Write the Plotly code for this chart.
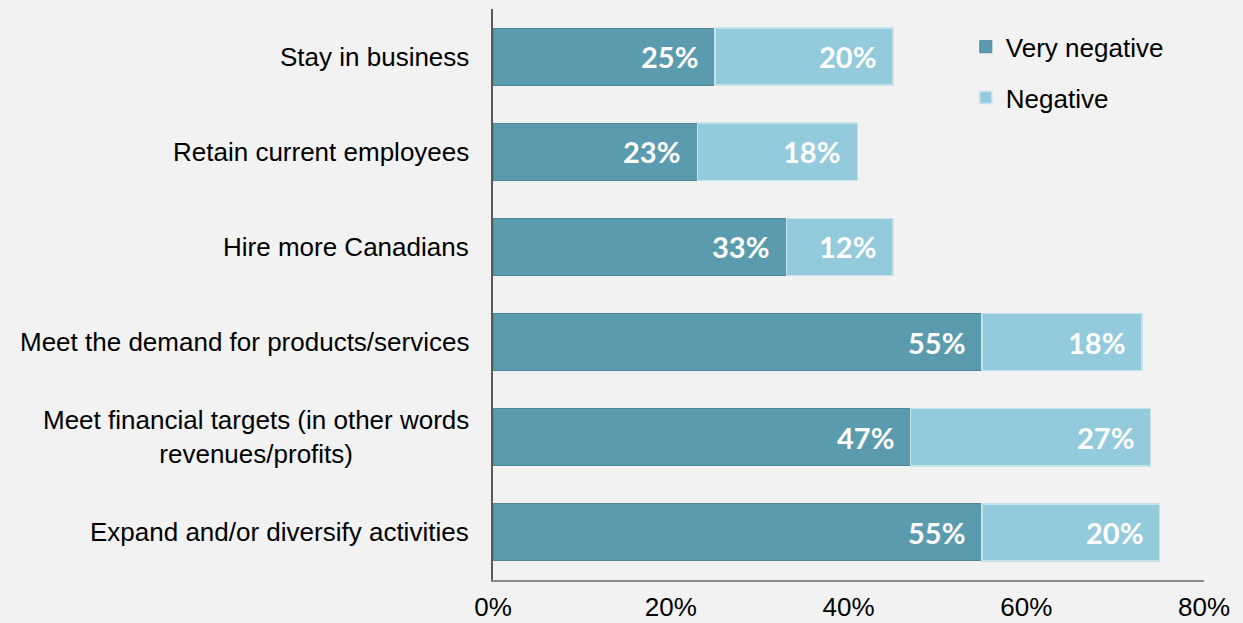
import plotly.graph_objects as go

categories = [
    "Stay in business",
    "Retain current employees",
    "Hire more Canadians",
    "Meet the demand for products/services",
    "Meet financial targets (in other words<br>revenues/profits)",
    "Expand and/or diversify activities",
]
very_negative = [25, 23, 33, 55, 47, 55]
negative = [20, 18, 12, 18, 27, 20]
series_names = ["Very negative", "Negative"]
x_ticks = [0, 20, 40, 60, 80]
x_tick_labels = ["0%", "20%", "40%", "60%", "80%"]

DARK = "#5a9cae"
LIGHT = "#93cbdc"
BG = "#f2f2f2"

fig = go.Figure()
fig.add_trace(go.Bar(
    y=categories, x=very_negative, orientation="h", name=series_names[0],
    marker=dict(color=DARK, line=dict(color="#4d8797", width=1)),
    width=0.6, legendgroup="a", hoverinfo="skip",
))
fig.add_trace(go.Bar(
    y=categories, x=negative, orientation="h", name=series_names[1],
    marker=dict(color=LIGHT, line=dict(color="#c6e3ec", width=1.5)),
    width=0.6, legendgroup="b", hoverinfo="skip",
))

annotations = []
label_font = dict(family="Lato, Open Sans, sans-serif", size=29, color="white")
for c, a, b in zip(categories, very_negative, negative):
    annotations.append(dict(x=a, y=c, xref="x", yref="y", text=f"<b>{a}%</b>",
                            showarrow=False, xanchor="right", xshift=-15,
                            font=label_font))
    annotations.append(dict(x=a + b, y=c, xref="x", yref="y", text=f"<b>{b}%</b>",
                            showarrow=False, xanchor="right", xshift=-15,
                            font=label_font))
    annotations.append(dict(x=0, y=c, xref="paper", yref="y", text=c,
                            showarrow=False, xanchor="right", xshift=-22,
                            align="center",
                            font=dict(family="Liberation Sans, Arial, sans-serif",
                                      size=26, color="#000000")))

fig.update_layout(
    width=1243, height=623,
    barmode="stack",
    paper_bgcolor=BG, plot_bgcolor=BG,
    margin=dict(l=493, r=39, t=9, b=43, autoexpand=False),
    font=dict(family="Liberation Sans, Arial, sans-serif", size=26, color="#000000"),
    showlegend=True,
    legend=dict(x=0.665, y=0.975, xanchor="left", yanchor="top",
                traceorder="grouped", tracegroupgap=14,
                bgcolor="rgba(0,0,0,0)",
                font=dict(family="Liberation Sans, Arial, sans-serif", size=26, color="#000000")),
    annotations=annotations,
    bargap=0.4,
)
fig.update_xaxes(
    range=[0, 80], tickvals=x_ticks, ticktext=x_tick_labels,
    showgrid=False, zeroline=False, automargin=False,
    showline=True, linecolor="#8a8a8a", linewidth=1.5,
    ticks="", ticklabelstandoff=3,
    tickfont=dict(size=26, color="#000000"),
)
fig.update_yaxes(
    categoryorder="array", categoryarray=categories, autorange="reversed",
    showticklabels=False, showgrid=False, zeroline=False, automargin=False,
    showline=True, linecolor="#5a5a5a", linewidth=2,
    ticks="",
)

fig.write_html(
    "out.html",
    config={"displayModeBar": False},
    post_script="document.body.style.margin='0';document.body.style.background='#f2f2f2';",
)
